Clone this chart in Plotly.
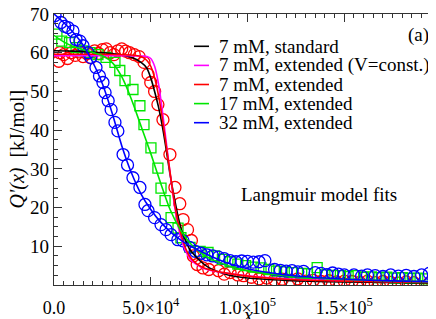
import plotly.graph_objects as go

# ---------------- data ----------------
red_x = [2500, 3000, 5000, 7000, 9000, 11000, 13000, 15000, 17000, 19000, 21000, 23000, 25000, 27000,
         29000, 31000, 33000, 35000, 37000, 39000, 41500, 44000, 46500, 48600, 50000, 52000, 53700,
         56300, 59900, 62500, 65000, 66700, 69000, 71000, 72000, 74000, 77000, 80000, 85000, 88000,
         91000, 95000, 98000, 102000, 106000, 110000, 114000, 118000, 122000, 126000, 130000, 134000,
         138000, 142000, 146000, 150000, 154000, 158000, 162000, 166000, 170000, 174000, 178000,
         182000, 186000, 190000, 194000, 198000]
red_y = [57.8, 60.0, 59.5, 58.5, 60.0, 59.3, 60.2, 59.0, 59.8, 58.7, 60.5, 59.8, 60.8, 61.0,
         60.0, 59.5, 60.5, 61.0, 60.4, 60.0, 59.5, 59.0, 57.5, 54.4, 52.3, 50.0, 46.6,
         42.7, 33.7, 25.2, 21.0, 16.9, 14.3, 11.5, 7.5, 5.3, 4.4, 4.0, 3.7, 2.8,
         3.2, 2.6, 2.4, 2.0, 1.6, 1.8, 1.3, 1.5, 1.2, 1.6, 1.0, 1.2,
         0.9, 1.1, 0.8, 1.0, 0.9, 0.7, 1.0, 0.6, 0.9, 0.7, 0.5,
         0.8, 0.6, -0.5, 0.5, 0.3]

green_x = [1500, 4000, 8000, 11400, 15000, 18600, 22700, 26900, 31500, 34000, 36700, 40800, 44400,
           46500, 50100, 53700, 55300, 57400, 60500, 64100, 65600, 70300, 75500, 79600, 83000,
           87000, 91000, 95000, 99000, 103000, 107000, 111000, 115000, 119000, 123000, 128000,
           131000, 136000, 140000, 144000, 148000, 152000, 156000, 160000, 164000, 168000, 172000,
           176000, 180000, 184000, 188000, 192000, 196000]
green_y = [64.8, 63.0, 62.6, 61.3, 60.5, 60.0, 59.5, 58.8, 57.5, 55.4, 52.8, 50.5, 46.3,
           41.4, 35.4, 30.2, 25.0, 21.8, 17.4, 14.7, 12.2, 9.7, 8.7, 8.4, 7.5,
           6.6, 6.0, 5.4, 5.0, 4.6, 4.4, 4.0, 3.6, 3.4, 3.2, 3.0,
           2.9, 4.5, 2.6, 2.5, 2.4, 2.2, 2.4, 2.0, 2.1, 1.9, 2.0,
           1.8, 1.9, 1.7, 1.8, 1.6, 1.5]

blue_x = [500, 3600, 5500, 7200, 9800, 11400, 13400, 15000, 17600, 19000, 21700, 23500, 25300,
          26400, 28000, 29500, 31500, 33000, 35700, 38000, 40800, 44400, 47000, 48600, 52000,
          55300, 57900, 60500, 64000, 66700, 70000, 73000, 76000, 79000, 82000, 85000, 88000,
          91000, 94000, 97000, 100000, 103000, 106000, 109000, 114000, 117000, 120000, 123000,
          126000, 129000, 135000, 138000, 141000, 144000, 147000, 150000, 155000, 159000,
          162000, 166000, 170000, 174000, 178000, 182000, 186000, 190000, 194000, 197000]
blue_y = [69.6, 67.8, 66.8, 66.5, 65.6, 63.4, 63.0, 61.8, 60.0, 58.8, 56.2, 54.0, 52.3,
          49.7, 47.6, 45.3, 42.0, 39.8, 33.7, 31.0, 27.7, 25.2, 20.8, 19.2, 17.4,
          15.6, 14.3, 13.0, 11.7, 11.4, 9.7, 8.7, 8.2, 7.8, 7.5, 7.2, 6.8,
          6.3, 6.0, 6.2, 6.1, 5.9, 6.0, 6.3, 4.0, 3.8, 3.6, 3.7,
          3.4, 3.5, 3.2, 3.0, 2.7, 3.1, 2.8, 2.6, 2.6, 2.3,
          2.6, 2.4, 2.2, 2.6, 2.3, 2.5, 2.2, 2.6, 3.0, 2.4]

# Langmuir model fit curves
black_fit_x = [0, 10000, 20000, 30000, 35000, 40000, 45000, 48000, 50000, 52000, 54000, 56000,
               58000, 60000, 62000, 64000, 66000, 68000, 70000, 73000, 76000, 80000, 86000,
               90000, 100000, 120000, 150000, 200000]
black_fit_y = [60.5, 60.4, 60.2, 59.8, 59.4, 58.8, 57.5, 56.0, 53.5, 50.0, 46.0, 41.0,
               35.0, 28.5, 23.0, 18.0, 14.0, 11.5, 9.3, 7.5, 6.0, 4.5, 3.2,
               2.6, 1.8, 1.2, 0.8, 0.5]

magenta_fit_x = [0, 40000, 48000, 50000, 52000, 54000, 56000, 58000, 60000, 62000, 64000, 66000,
                 68000, 70000, 73000, 76000, 80000, 90000, 100000, 120000, 150000, 200000]
magenta_fit_y = [59.2, 59.2, 59.0, 58.5, 56.5, 52.0, 45.0, 37.0, 29.0, 21.5, 15.5, 11.5,
                 8.8, 7.0, 5.5, 4.6, 3.9, 3.0, 2.4, 1.6, 1.1, 0.7]

red_fit_x = [0, 20000, 40000, 45000, 48000, 50000, 52000, 54000, 56000, 58000, 60000, 62000,
             64000, 66000, 68000, 70000, 73000, 76000, 80000, 90000, 100000, 120000, 150000, 200000]
red_fit_y = [59.6, 59.6, 59.4, 59.0, 58.0, 56.5, 53.5, 49.0, 43.0, 36.0, 29.0, 22.0,
             16.5, 12.5, 9.5, 7.5, 5.8, 4.8, 4.0, 3.0, 2.3, 1.5, 1.0, 0.6]

green_fit_x = [0, 5000, 10000, 15000, 20000, 25000, 30000, 35000, 40000, 45000, 50000, 55000,
               60000, 65000, 70000, 75000, 80000, 90000, 100000, 120000, 140000, 160000, 180000, 200000]
green_fit_y = [64.5, 62.8, 61.6, 60.8, 60.1, 59.2, 57.5, 53.8, 48.0, 41.0, 34.0, 26.5,
               19.5, 14.5, 11.0, 8.6, 7.0, 5.0, 3.7, 2.4, 1.7, 1.3, 1.0, 0.8]

blue_fit_x = [0, 5000, 10000, 15000, 20000, 25000, 30000, 35000, 40000, 45000, 50000, 55000,
              60000, 65000, 70000, 80000, 90000, 100000, 120000, 140000, 160000, 180000, 200000]
blue_fit_y = [70.0, 67.8, 65.2, 62.0, 57.6, 52.0, 44.5, 36.0, 29.0, 23.5, 19.5, 16.3,
              13.8, 11.8, 10.2, 7.7, 5.6, 4.2, 2.6, 1.8, 1.3, 1.0, 0.8]

legend_labels = ["7 mM, standard", "7 mM, extended (V=const.)", "7 mM, extended",
                 "17 mM, extended", "32 mM, extended"]
x_tickvals = [0, 50000, 100000, 150000]
x_ticktext = ["0.0", "5.0×10<sup>4</sup>", "1.0×10<sup>5</sup>", "1.5×10<sup>5</sup>"]
y_tickvals = [10, 20, 30, 40, 50, 60, 70]

# ---------------- styling ----------------
FONT = "Liberation Serif"
C_BLACK, C_MAG, C_RED, C_GREEN, C_BLUE = "#000000", "#ff00ff", "#ff0000", "#00e600", "#0000ff"
L, R, T, B = 46, 3, 6, 42
W, H = 436, 319
PW, PH = W - L - R, H - T - B


def px_x(p):
    return (p - L) / PW


def px_y(p):
    return (H - B - p) / PH


fig = go.Figure()

fig.add_trace(go.Scatter(x=red_x, y=red_y, mode="markers", showlegend=False,
                         marker=dict(symbol="circle-open", size=12, color=C_RED, line=dict(width=1.3))))
fig.add_trace(go.Scatter(x=green_x, y=green_y, mode="markers", showlegend=False,
                         marker=dict(symbol="square-open", size=10, color=C_GREEN, line=dict(width=1.3))))
fig.add_trace(go.Scatter(x=blue_x, y=blue_y, mode="markers", showlegend=False,
                         marker=dict(symbol="circle-open", size=12, color=C_BLUE, line=dict(width=1.3))))

fits = [(black_fit_x, black_fit_y, C_BLACK), (magenta_fit_x, magenta_fit_y, C_MAG),
        (red_fit_x, red_fit_y, C_RED), (green_fit_x, green_fit_y, C_GREEN),
        (blue_fit_x, blue_fit_y, C_BLUE)]
for (fx, fy, col), name in zip(fits, legend_labels):
    fig.add_trace(go.Scatter(x=fx, y=fy, mode="lines", name=name, showlegend=False,
                             line=dict(color=col, width=1.6, shape="spline", smoothing=0.8)))

axis_common = dict(showline=True, linecolor="#333333", linewidth=1.2, mirror="allticks",
                   ticks="inside", tickcolor="#333333", tickwidth=1.2, ticklen=8,
                   showgrid=False, zeroline=False, ticklabeloverflow="allow")

fig.update_xaxes(range=[0, 200000], tickvals=x_tickvals, ticktext=x_ticktext,
                 minor=dict(dtick=5000, tick0=0, ticks="inside", ticklen=4, tickcolor="#333333"),
                 tickfont=dict(family=FONT, size=18, color="#000000"),
                 ticklabelstandoff=6, **axis_common)
fig.update_yaxes(range=[0, 70], tickvals=y_tickvals,
                 minor=dict(dtick=2.5, tick0=0, ticks="inside", ticklen=4, tickcolor="#333333"),
                 tickfont=dict(family=FONT, size=19, color="#000000"),
                 **axis_common)

# axis titles
fig.add_annotation(xref="paper", yref="paper", x=0.5, y=px_y(318.5), xanchor="center", yanchor="bottom",
                   showarrow=False, text="<i>x</i>", borderpad=0,
                   font=dict(family=FONT, size=20, color="#000000"))
fig.add_annotation(xref="paper", yref="paper", x=px_x(9), y=0.5, xanchor="center", yanchor="middle",
                   textangle=-90, showarrow=False, text="<i>Q'(x)</i>\u00a0\u00a0[kJ/mol]",
                   font=dict(family=FONT, size=20, color="#000000"))

# legend drawn as line glyphs + text rows
leg_colors = [C_BLACK, C_MAG, C_RED, C_GREEN, C_BLUE]
row_y0, row_dy = 38.3, 19.1
for i, (lab, col) in enumerate(zip(legend_labels, leg_colors)):
    ypx = row_y0 + i * row_dy
    fig.add_shape(type="line", xref="paper", yref="paper", x0=px_x(186), x1=px_x(201),
                  y0=px_y(ypx), y1=px_y(ypx), line=dict(color=col, width=1.6))
    fig.add_annotation(xref="paper", yref="paper", x=px_x(209), y=px_y(ypx),
                       xanchor="left", yanchor="middle", showarrow=False, text=lab,
                       font=dict(family=FONT, size=19, color="#000000"))

fig.add_annotation(xref="paper", yref="paper", x=px_x(410.5), y=px_y(27),
                   xanchor="center", yanchor="middle", showarrow=False, text="(a)",
                   font=dict(family=FONT, size=19, color="#000000"))
fig.add_annotation(xref="paper", yref="paper", x=px_x(310.5), y=px_y(186),
                   xanchor="center", yanchor="middle", showarrow=False, text="Langmuir model fits",
                   font=dict(family=FONT, size=19, color="#000000"))

fig.update_layout(width=W, height=H, margin=dict(l=L, r=R, t=T, b=B, autoexpand=False),
                  paper_bgcolor="white", plot_bgcolor="white", showlegend=False,
                  font=dict(family=FONT, size=18, color="#000000"))

fig.write_html("out.html")
